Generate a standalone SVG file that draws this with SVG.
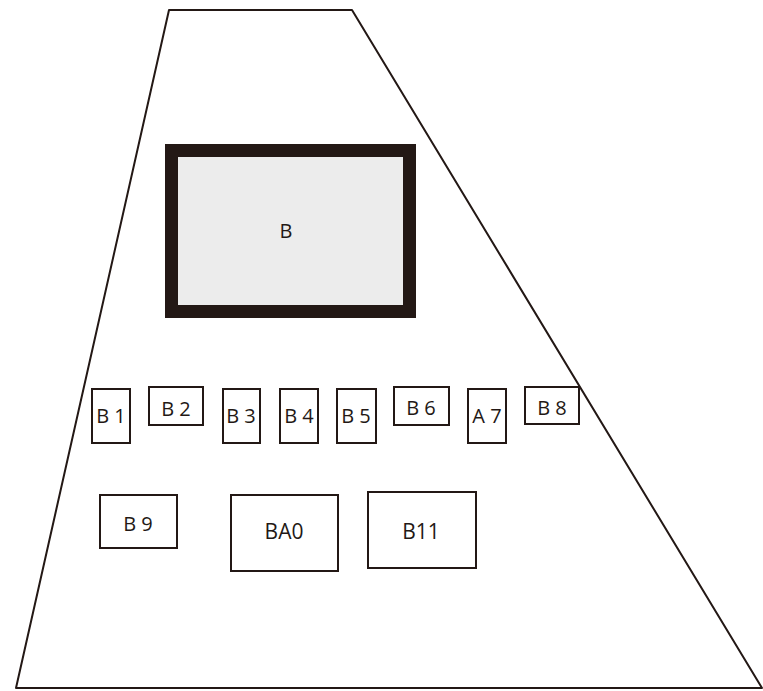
<svg xmlns="http://www.w3.org/2000/svg" width="763" height="691" viewBox="0 0 763 691">
<style>
.box{fill:#fff;stroke:#231815;stroke-width:2}
.lbl{font-family:"Open Sans","Liberation Sans",sans-serif;font-size:20px;fill:#231815;text-anchor:middle}
.big{font-size:21px}
</style>
<rect width="763" height="691" fill="#fff"/>
<g id="outline"><polygon points="169,10 352,10 762,688 16,688" fill="#fff" stroke="#231815" stroke-width="2" stroke-linejoin="round"/></g>
<g id="nodeB"><rect x="171.5" y="150.5" width="238" height="161" fill="#ececec" stroke="#231815" stroke-width="13"/><text class="lbl" x="286" y="238">B</text></g>
<g id="nodeB1"><rect class="box" x="92" y="389" width="38" height="54"/><text class="lbl" x="111" y="423">B 1</text></g>
<g id="nodeB2"><rect class="box" x="149" y="387" width="54" height="38"/><text class="lbl" x="176" y="416">B 2</text></g>
<g id="nodeB3"><rect class="box" x="223" y="389" width="37" height="54"/><text class="lbl" x="241" y="423">B 3</text></g>
<g id="nodeB4"><rect class="box" x="280" y="389" width="38" height="54"/><text class="lbl" x="299" y="423">B 4</text></g>
<g id="nodeB5"><rect class="box" x="337" y="389" width="39" height="54"/><text class="lbl" x="356" y="423">B 5</text></g>
<g id="nodeB6"><rect class="box" x="394" y="387" width="55" height="38"/><text class="lbl" x="421" y="415">B 6</text></g>
<g id="nodeA7"><rect class="box" x="468" y="389" width="38" height="54"/><text class="lbl" x="487" y="423">A 7</text></g>
<g id="nodeB8"><rect class="box" x="525" y="387" width="54" height="37"/><text class="lbl" x="552" y="415">B 8</text></g>
<g id="nodeB9"><rect class="box" x="100" y="495" width="77" height="53"/><text class="lbl" x="138" y="531">B 9</text></g>
<g id="nodeBA0"><rect class="box" x="231" y="495" width="107" height="76"/><text class="lbl big" x="284" y="539">BA0</text></g>
<g id="nodeB11"><rect class="box" x="368" y="492" width="108" height="76"/><text class="lbl big" x="421" y="539">B11</text></g>
<g id="connectors"></g>
</svg>
